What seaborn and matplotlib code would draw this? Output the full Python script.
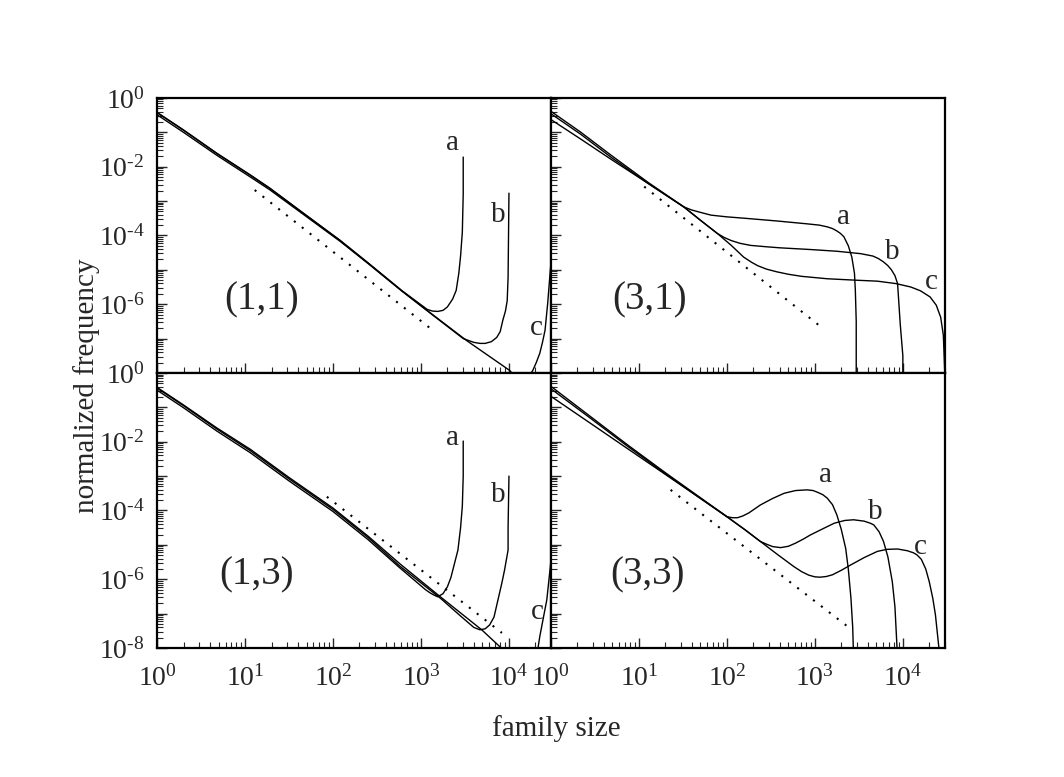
import numpy as np
import pandas as pd
import seaborn as sns
import matplotlib
matplotlib.use("Agg")
import matplotlib.pyplot as plt
from matplotlib.ticker import LogLocator, FuncFormatter, NullFormatter

# all values are log10 of (family size, normalized frequency)

# panel (1,1)
p11_a_lx = [0, 0.30, 0.68, 1.06, 1.28, 1.6, 2.08, 2.4, 2.78, 3.07, 3.13, 3.19, 3.25, 3.30, 3.36, 3.40, 3.43, 3.45, 3.47, 3.48, 3.48]
p11_a_ly = [-0.42, -0.93, -1.61, -2.24, -2.62, -3.23, -4.14, -4.80, -5.60, -6.15, -6.20, -6.21, -6.18, -6.08, -5.85, -5.60, -5.10, -4.60, -3.90, -2.80, -1.72]
p11_b_lx = [0, 0.30, 0.68, 1.06, 1.28, 1.6, 2.08, 2.4, 2.78, 3.10, 3.48, 3.60, 3.67, 3.73, 3.80, 3.86, 3.90, 3.93, 3.96, 3.98, 3.99, 4.0]
p11_b_ly = [-0.43, -0.94, -1.62, -2.25, -2.63, -3.24, -4.15, -4.81, -5.61, -6.25, -7.0, -7.11, -7.14, -7.14, -7.09, -6.97, -6.80, -6.47, -6.20, -5.90, -5.22, -2.77]
p11_c_lx = [0, 0.30, 0.68, 1.06, 1.28, 1.6, 2.08, 2.4, 2.78, 3.10, 3.52, 4.01, 4.1, 4.2, 4.27, 4.31, 4.35, 4.38, 4.41, 4.44, 4.47, 4.50]
p11_c_ly = [-0.49, -1.0, -1.67, -2.30, -2.67, -3.27, -4.17, -4.82, -5.61, -6.24, -7.06, -7.93, -8.2, -8.2, -7.93, -7.70, -7.43, -7.12, -6.76, -5.98, -5.01, -4.2]
p11_dot_lx = [1.11, 3.12]
p11_dot_ly = [-2.68, -6.73]

# panel (3,1)
p31_a_lx = [0, 0.34, 0.68, 1.1, 1.51, 1.6, 1.7, 1.82, 2.0, 2.2, 2.57, 2.9, 3.05, 3.14, 3.20, 3.25, 3.29, 3.33, 3.38, 3.42, 3.45, 3.46, 3.47, 3.47]
p31_a_ly = [-0.63, -1.20, -1.78, -2.48, -3.17, -3.26, -3.33, -3.41, -3.46, -3.50, -3.58, -3.66, -3.70, -3.75, -3.80, -3.87, -3.94, -4.04, -4.30, -4.63, -5.10, -5.60, -6.50, -8.5]
p31_b_lx = [0, 0.34, 0.68, 1.1, 1.51, 1.7, 1.89, 1.97, 2.05, 2.15, 2.27, 2.45, 2.6, 2.95, 3.25, 3.52, 3.66, 3.72, 3.78, 3.83, 3.87, 3.91, 3.94, 3.97, 4.0, 4.0]
p31_b_ly = [-0.39, -1.0, -1.66, -2.45, -3.17, -3.56, -3.94, -4.06, -4.15, -4.23, -4.29, -4.33, -4.36, -4.41, -4.46, -4.53, -4.60, -4.67, -4.77, -4.88, -5.0, -5.17, -5.40, -6.57, -7.5, -8.5]
p31_c_lx = [0, 0.34, 0.68, 1.1, 1.51, 1.7, 1.89, 2.05, 2.19, 2.28, 2.35, 2.45, 2.57, 2.7, 2.85, 3.14, 3.45, 3.71, 3.92, 4.09, 4.2, 4.31, 4.38, 4.43, 4.46, 4.47, 4.49]
p31_c_ly = [-0.46, -1.06, -1.72, -2.48, -3.17, -3.56, -3.94, -4.29, -4.63, -4.78, -4.88, -4.98, -5.06, -5.13, -5.19, -5.26, -5.30, -5.33, -5.40, -5.50, -5.61, -5.79, -6.03, -6.38, -6.9, -7.55, -9.0]
p31_dot_lx = [1.06, 3.05]
p31_dot_ly = [-2.58, -6.62]

# panel (1,3)
p13_a_lx = [0, 0.30, 0.68, 1.06, 1.5, 2.0, 2.4, 2.76, 3.05, 3.10, 3.14, 3.19, 3.25, 3.30, 3.34, 3.38, 3.42, 3.45, 3.47, 3.48, 3.48]
p13_a_ly = [-0.50, -1.01, -1.69, -2.32, -3.14, -4.03, -4.85, -5.67, -6.30, -6.39, -6.45, -6.51, -6.42, -6.22, -5.95, -5.55, -5.15, -4.50, -3.87, -3.0, -1.98]
p13_b_lx = [0, 0.30, 0.68, 1.06, 1.5, 2.0, 2.4, 2.76, 3.22, 3.45, 3.60, 3.67, 3.73, 3.78, 3.83, 3.875, 3.92, 3.95, 3.99, 3.99, 4.0]
p13_b_ly = [-0.44, -0.95, -1.63, -2.26, -3.08, -3.97, -4.79, -5.62, -6.55, -7.07, -7.40, -7.47, -7.44, -7.33, -7.10, -6.60, -6.10, -5.73, -5.15, -4.50, -3.0]
p13_c_lx = [0, 0.30, 0.68, 1.06, 1.5, 2.0, 2.4, 2.76, 3.22, 3.69, 3.90, 4.0, 4.1, 4.25, 4.33, 4.35, 4.40, 4.43, 4.47, 4.50]
p13_c_ly = [-0.42, -0.93, -1.60, -2.22, -3.04, -3.93, -4.75, -5.55, -6.51, -7.47, -7.97, -8.2, -8.4, -8.4, -8.0, -7.67, -7.0, -6.6, -5.64, -4.8]
p13_dot_lx = [1.93, 3.92]
p13_dot_ly = [-3.60, -7.56]

# panel (3,3)
p33_a_lx = [0, 0.43, 0.87, 1.3, 1.7, 2.0, 2.06, 2.12, 2.18, 2.25, 2.38, 2.52, 2.65, 2.78, 2.91, 2.98, 3.03, 3.09, 3.14, 3.20, 3.25, 3.30, 3.35, 3.38, 3.41, 3.43, 3.44]
p33_a_ly = [-0.68, -1.43, -2.20, -2.95, -3.65, -4.18, -4.21, -4.21, -4.16, -4.07, -3.84, -3.65, -3.50, -3.42, -3.40, -3.42, -3.47, -3.54, -3.64, -3.83, -4.13, -4.55, -5.10, -5.70, -6.55, -7.40, -8.3]
p33_b_lx = [0, 0.43, 0.87, 1.3, 1.7, 2.0, 2.2, 2.38, 2.45, 2.52, 2.61, 2.70, 2.78, 2.87, 2.95, 3.1, 3.22, 3.34, 3.44, 3.56, 3.63, 3.67, 3.73, 3.78, 3.83, 3.88, 3.91, 3.94]
p33_b_ly = [-0.39, -1.23, -2.09, -2.90, -3.63, -4.18, -4.55, -4.90, -4.98, -5.05, -5.08, -5.04, -4.95, -4.83, -4.71, -4.52, -4.37, -4.29, -4.27, -4.31, -4.37, -4.42, -4.62, -4.90, -5.35, -6.07, -6.80, -8.3]
p33_c_lx = [0, 0.43, 0.87, 1.3, 1.7, 2.0, 2.2, 2.38, 2.57, 2.76, 2.85, 2.93, 3.0, 3.06, 3.13, 3.2, 3.3, 3.41, 3.56, 3.71, 3.82, 3.94, 4.05, 4.12, 4.16, 4.21, 4.26, 4.30, 4.34, 4.37, 4.41, 4.43]
p33_c_ly = [-0.46, -1.28, -2.13, -2.93, -3.65, -4.18, -4.55, -4.90, -5.27, -5.63, -5.78, -5.88, -5.93, -5.94, -5.92, -5.87, -5.74, -5.58, -5.37, -5.19, -5.13, -5.12, -5.17, -5.23, -5.29, -5.42, -5.70, -6.07, -6.55, -7.03, -8.0, -8.5]
p33_dot_lx = [1.36, 3.37]
p33_dot_ly = [-3.40, -7.37]

panel_names = ["(1,1)", "(3,1)", "(1,3)", "(3,3)"]

sns.set_style("ticks")
plt.rcParams["font.family"] = ["Liberation Serif", "DejaVu Serif"]
plt.rcParams["mathtext.fontset"] = "custom"
plt.rcParams["mathtext.rm"] = "Liberation Serif"
plt.rcParams["mathtext.it"] = "Liberation Serif:italic"
plt.rcParams["axes.linewidth"] = 1.6


def draw_curve(ax, lx, ly, dotted=False):
    df = pd.DataFrame({"x": np.power(10.0, lx), "y": np.power(10.0, ly)})
    if dotted:
        sns.lineplot(data=df, x="x", y="y", sort=False, estimator=None, ax=ax,
                     color="black", lw=1.5, linestyle=(0, (1, 3.8)))
    else:
        sns.lineplot(data=df, x="x", y="y", sort=False, estimator=None, ax=ax,
                     color="black", lw=1.0)


def label_maker(show_exps):
    def fmt(v, pos):
        e = int(round(np.log10(v)))
        if e not in show_exps:
            return ""
        if e < 0:
            return r"$10^{\text{-}%d}$" % (-e)
        return r"$10^{%d}$" % e
    return fmt


fig = plt.figure(figsize=(10.64, 7.77), dpi=100)
axes = fig.subplots(2, 2)
fig.subplots_adjust(left=0.1476, right=0.888, top=0.874, bottom=0.166, wspace=0, hspace=0)

curves = [
    [(p11_a_lx, p11_a_ly), (p11_b_lx, p11_b_ly), (p11_c_lx, p11_c_ly), (p11_dot_lx, p11_dot_ly)],
    [(p31_a_lx, p31_a_ly), (p31_b_lx, p31_b_ly), (p31_c_lx, p31_c_ly), (p31_dot_lx, p31_dot_ly)],
    [(p13_a_lx, p13_a_ly), (p13_b_lx, p13_b_ly), (p13_c_lx, p13_c_ly), (p13_dot_lx, p13_dot_ly)],
    [(p33_a_lx, p33_a_ly), (p33_b_lx, p33_b_ly), (p33_c_lx, p33_c_ly), (p33_dot_lx, p33_dot_ly)],
]

# letter spots (log10 coords) and panel name spots (axes fraction)
letter_pos = [
    [(3.36, -1.31), (3.875, -3.41), (4.31, -6.68)],
    [(3.33, -3.47), (3.875, -4.49), (4.32, -5.36)],
    [(3.36, -1.89), (3.875, -3.55), (4.32, -6.95)],
    [(3.125, -2.97), (3.69, -4.04), (4.20, -5.06)],
]
name_pos = [(0.266, 0.265), (0.25, 0.265), (0.253, 0.265), (0.244, 0.265)]

for i, ax in enumerate(axes.flat):
    row, col = divmod(i, 2)
    ax.set_xscale("log")
    ax.set_yscale("log")
    for j, (lx, ly) in enumerate(curves[i]):
        draw_curve(ax, lx, ly, dotted=(j == 3))
    ax.set_xlim(1, 3e4)
    ax.set_ylim(1e-8, 1)
    ax.set_xlabel("")
    ax.set_ylabel("")

    ax.xaxis.set_major_locator(LogLocator(base=10, numticks=20))
    ax.xaxis.set_minor_locator(LogLocator(base=10, subs=np.arange(2, 10), numticks=20))
    ax.yaxis.set_major_locator(LogLocator(base=10, numticks=20))
    ax.yaxis.set_minor_locator(LogLocator(base=10, subs=np.arange(2, 10), numticks=20))
    ax.xaxis.set_minor_formatter(NullFormatter())
    ax.yaxis.set_minor_formatter(NullFormatter())

    if row == 1:
        ax.xaxis.set_major_formatter(FuncFormatter(label_maker([0, 1, 2, 3, 4])))
    else:
        ax.xaxis.set_major_formatter(NullFormatter())
    if col == 0:
        exps = [0, -2, -4, -6, -8] if row == 1 else [0, -2, -4, -6]
        ax.yaxis.set_major_formatter(FuncFormatter(label_maker(exps)))
    else:
        ax.yaxis.set_major_formatter(NullFormatter())

    ax.tick_params(which="both", direction="in", top=False, right=False, labelsize=20)
    ax.tick_params(which="major", length=7, width=1.0)
    ax.tick_params(which="minor", length=4, width=0.8)
    ax.tick_params(axis="x", which="major", pad=12)
    ax.tick_params(axis="y", which="major", pad=9)
    for s in ax.spines.values():
        s.set_linewidth(1.6)
        s.set_color("black")

    for letter, (lx, ly) in zip("abc", letter_pos[i]):
        ax.text(10 ** lx, 10 ** ly, letter, ha="center", va="center", fontsize=21)
    ax.text(name_pos[i][0], name_pos[i][1], panel_names[i], transform=ax.transAxes,
            ha="center", va="center", fontsize=28)

fig.text(0.081, 0.504, "normalized frequency", rotation=90, ha="center", va="center", fontsize=21)
fig.text(0.523, 0.063, "family size", ha="center", va="center", fontsize=21)

fig.savefig("out.png", dpi=100)
